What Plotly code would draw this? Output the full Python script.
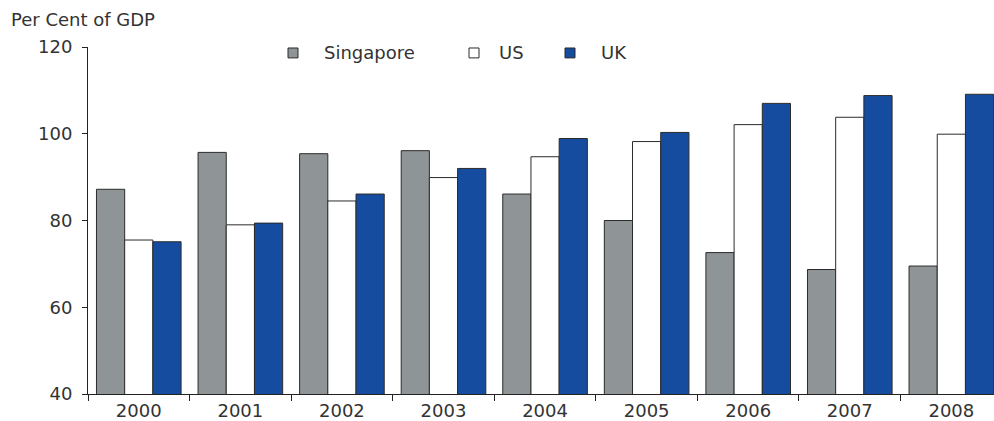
import plotly.graph_objects as go

years = ["2000", "2001", "2002", "2003", "2004", "2005", "2006", "2007", "2008"]
singapore = [87.2, 95.7, 95.4, 96.1, 86.1, 80.0, 72.6, 68.7, 69.5]
us = [75.5, 79.0, 84.5, 89.9, 94.7, 98.2, 102.1, 103.8, 99.9]
uk = [75.1, 79.4, 86.1, 92.0, 98.9, 100.3, 107.0, 108.8, 109.1]
y_ticks = [40, 60, 80, 100, 120]

series = [
    ("Singapore", singapore, "#8f9496"),
    ("US", us, "#ffffff"),
    ("UK", uk, "#154ca0"),
]

FONT = "DejaVu Sans, Verdana, sans-serif"
TXT = "#333333"

fig = go.Figure()
for name, vals, col in series:
    fig.add_trace(go.Bar(
        x=years, y=vals, name=name,
        marker=dict(color=col, line=dict(color="#2b2b2b", width=1)),
        showlegend=False,
    ))

# manual legend (paper coords)
W, H = 994, 421
ML, MR, MT, MB = 88, 0, 47, 24
pw, ph = W - ML - MR, H - MT - MB
def px(x):
    return (x - ML) / pw
def py(y):
    return (H - MB - y) / ph

legend_items = [(293, 322), (474, 497), (570, 599)]
shapes = []
annotations = []
for (mx, tx), (name, vals, col) in zip(legend_items, series):
    shapes.append(dict(type="rect", xref="paper", yref="paper",
                       x0=px(mx - 5), x1=px(mx + 5), y0=py(58), y1=py(48),
                       fillcolor=col, line=dict(color="#2b2b2b", width=1)))
    annotations.append(dict(text=name, xref="paper", yref="paper",
                            x=px(tx), y=py(53), xanchor="left", yanchor="middle",
                            showarrow=False, font=dict(family=FONT, size=18, color=TXT)))

annotations.append(dict(text="Per Cent of GDP", xref="paper", yref="paper",
                        x=px(9), y=py(19), xanchor="left", yanchor="middle",
                        showarrow=False, font=dict(family=FONT, size=18, color=TXT)))

fig.update_layout(
    width=W, height=H,
    margin=dict(l=ML, r=MR, t=MT, b=MB),
    paper_bgcolor="white", plot_bgcolor="white",
    barmode="group", bargap=0.167, bargroupgap=0,
    font=dict(family=FONT, size=18, color=TXT),
    shapes=shapes, annotations=annotations,
    xaxis=dict(
        type="category", range=[-0.5, 8.42],
        showline=True, linecolor="#222222", linewidth=1,
        ticks="outside", tickson="boundaries", ticklen=6, tickcolor="#222222",
        showgrid=False, zeroline=False,
        tickfont=dict(family=FONT, size=18, color=TXT),
    ),
    yaxis=dict(
        range=[40, 120], tickvals=y_ticks,
        showline=True, linecolor="#222222", linewidth=1,
        ticks="outside", ticklen=5, tickcolor="#222222",
        ticklabelstandoff=6,
        showgrid=False, zeroline=False,
        tickfont=dict(family=FONT, size=18, color=TXT),
    ),
)

fig.write_html(
    "out.html",
    config={"displayModeBar": False},
    post_script="document.body.style.margin='0';document.body.style.overflow='hidden';",
)
